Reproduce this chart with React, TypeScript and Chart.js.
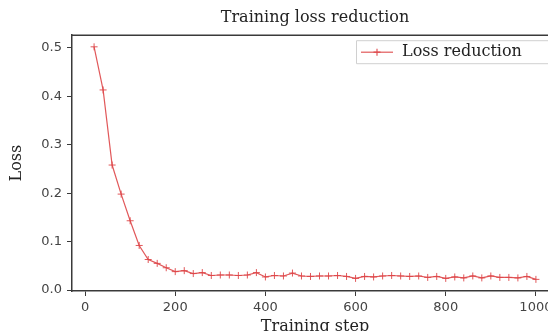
import React, { useEffect, useRef } from "react";
import { Chart, registerables } from "chart.js";

Chart.register(...registerables);

const chartTitle = "Training loss reduction";
const xLabel = "Training step";
const yLabel = "Loss";
const seriesName = "Loss reduction";

const steps = [
  20, 40, 60, 80, 100, 120, 140, 160, 180, 200,
  220, 240, 260, 280, 300, 320, 340, 360, 380, 400,
  420, 440, 460, 480, 500, 520, 540, 560, 580, 600,
  620, 640, 660, 680, 700, 720, 740, 760, 780, 800,
  820, 840, 860, 880, 900, 920, 940, 960, 980, 1000,
];

const loss = [
  0.502, 0.413, 0.258, 0.198, 0.143, 0.092, 0.063, 0.055, 0.046, 0.038,
  0.040, 0.034, 0.036, 0.030, 0.031, 0.031, 0.030, 0.031, 0.036, 0.027,
  0.030, 0.029, 0.035, 0.029, 0.028, 0.029, 0.029, 0.030, 0.028, 0.024,
  0.028, 0.027, 0.029, 0.030, 0.029, 0.028, 0.029, 0.026, 0.028, 0.024,
  0.027, 0.025, 0.029, 0.025, 0.029, 0.026, 0.026, 0.025, 0.028, 0.022,
];

const xTickStep = 200;
const yTickStep = 0.1;

const LINE_COLOR = "rgba(222, 70, 72, 0.9)";
const AXIS_COLOR = "#3a3a3a";
const SERIF = "'DejaVu Serif', serif";
const SANS = "'DejaVu Sans', sans-serif";

const CANVAS_W = 570;
const CANVAS_H = 345;

const framePlugin = {
  id: "frameAndLegend",
  afterDraw(chart: any) {
    const { ctx, chartArea } = chart;
    const { left, top, right, bottom } = chartArea;
    ctx.save();
    // top & right spines
    ctx.strokeStyle = AXIS_COLOR;
    ctx.lineWidth = 1.5;
    ctx.beginPath();
    ctx.moveTo(left, top);
    ctx.lineTo(right, top);
    ctx.lineTo(right, bottom);
    ctx.stroke();

    // legend
    const lx = right - 202;
    const ly = top + 5;
    const lw = 197;
    const lh = 23;
    ctx.fillStyle = "rgba(255,255,255,0.85)";
    ctx.strokeStyle = "#d0d0d0";
    ctx.lineWidth = 1;
    ctx.beginPath();
    ctx.rect(lx + 0.5, ly + 0.5, lw, lh);
    ctx.fill();
    ctx.stroke();

    const cy = ly + lh / 2 + 0.5;
    ctx.strokeStyle = LINE_COLOR;
    ctx.lineWidth = 1.2;
    ctx.beginPath();
    ctx.moveTo(lx + 5, cy);
    ctx.lineTo(lx + 37, cy);
    ctx.stroke();
    const mx = lx + 21;
    ctx.beginPath();
    ctx.moveTo(mx - 3.5, cy);
    ctx.lineTo(mx + 3.5, cy);
    ctx.moveTo(mx, cy - 3.5);
    ctx.lineTo(mx, cy + 3.5);
    ctx.stroke();

    ctx.fillStyle = "#222";
    ctx.font = `16px ${SERIF}`;
    ctx.textBaseline = "middle";
    ctx.textAlign = "left";
    ctx.fillText(seriesName, lx + 46, cy);
    ctx.restore();
  },
};

export default function App() {
  const ref = useRef<HTMLCanvasElement | null>(null);

  useEffect(() => {
    if (!ref.current) return;
    const xMin = steps[0] - 0.05 * (steps[steps.length - 1] - steps[0]);
    const xMax = steps[steps.length - 1] + 0.05 * (steps[steps.length - 1] - steps[0]);
    const lo = Math.min(...loss);
    const hi = Math.max(...loss);
    const yMin = lo - 0.05 * (hi - lo);
    const yMax = hi + 0.05 * (hi - lo);

    const chart = new Chart(ref.current, {
      type: "line",
      data: {
        datasets: [
          {
            label: seriesName,
            data: steps.map((s, i) => ({ x: s, y: loss[i] })),
            borderColor: LINE_COLOR,
            backgroundColor: LINE_COLOR,
            borderWidth: 1.2,
            pointStyle: "cross",
            pointRadius: 3.5,
            pointBorderWidth: 1,
            pointBorderColor: LINE_COLOR,
            tension: 0,
            fill: false,
            clip: false as any,
          },
        ],
      },
      options: {
        responsive: false,
        animation: false,
        devicePixelRatio: 1,
        layout: { padding: { left: 0, top: 0, right: CANVAS_W - 558, bottom: 0 } },
        plugins: {
          legend: { display: false },
          tooltip: { enabled: false },
          title: {
            display: true,
            text: chartTitle,
            fullSize: false,
            color: "#222",
            font: { family: SERIF, size: 16, weight: "normal" },
            padding: { top: 8, bottom: 8 },
          },
        },
        scales: {
          x: {
            type: "linear",
            min: xMin,
            max: xMax,
            afterFit: (scale: any) => {
              scale.height = CANVAS_H - 291;
            },
            ticks: {
              stepSize: xTickStep,
              includeBounds: false,
              color: "#444",
              font: { family: SANS, size: 13 },
              padding: 4,
              maxRotation: 0,
              callback: (v: any) => String(Math.round(Number(v))),
            },
            grid: {
              display: true,
              drawOnChartArea: false,
              drawTicks: true,
              tickLength: 5,
              color: AXIS_COLOR,
              lineWidth: 1,
            },
            border: { display: true, color: AXIS_COLOR, width: 1.5 },
            title: {
              display: true,
              text: xLabel,
              color: "#222",
              font: { family: SERIF, size: 16 },
              padding: { top: 0, bottom: 9 },
            },
          },
          y: {
            type: "linear",
            min: yMin,
            max: yMax,
            afterFit: (scale: any) => {
              scale.width = 72;
            },
            ticks: {
              stepSize: yTickStep,
              includeBounds: false,
              color: "#444",
              font: { family: SANS, size: 13 },
              padding: 5,
              callback: (v: any) => Number(v).toFixed(1),
            },
            grid: {
              display: true,
              drawOnChartArea: false,
              drawTicks: true,
              tickLength: 5,
              color: AXIS_COLOR,
              lineWidth: 1,
            },
            border: { display: true, color: AXIS_COLOR, width: 1.5 },
            title: {
              display: true,
              text: yLabel,
              color: "#222",
              font: { family: SERIF, size: 16 },
              padding: { top: 7, bottom: 0 },
            },
          },
        },
      },
      plugins: [framePlugin],
    });
    return () => chart.destroy();
  }, []);

  return (
    <div
      style={{
        position: "fixed",
        left: 0,
        top: 0,
        width: 548,
        height: 331,
        overflow: "hidden",
        background: "#fff",
      }}
    >
      <canvas ref={ref} width={CANVAS_W} height={CANVAS_H} style={{ display: "block" }} />
    </div>
  );
}
